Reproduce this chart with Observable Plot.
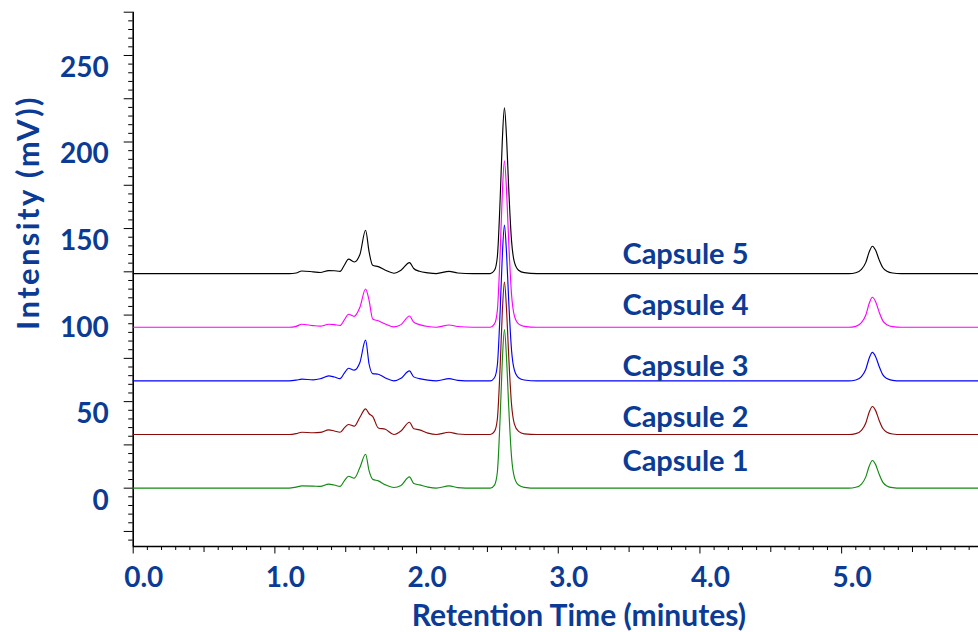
<!DOCTYPE html>
<html>
<head>
<meta charset="utf-8">
<script src="https://cdn.jsdelivr.net/npm/d3@7"></script>
<script src="https://cdn.jsdelivr.net/npm/@observablehq/plot@0.6"></script>
<style>
  html, body { margin: 0; padding: 0; background: #fff; }
  #chart svg { display: block; }
</style>
</head>
<body>
<div id="chart"></div>
<script>
// Retention time sample points (minutes)
const time = [0, 1.10, 1.15, 1.19, 1.27, 1.32, 1.38, 1.42, 1.46, 1.49, 1.52, 1.56, 1.60, 1.64, 1.665, 1.69, 1.73, 1.78, 1.84, 1.89, 1.95, 1.98, 2.02, 2.08, 2.14, 2.23, 2.29, 2.40,
  2.52, 2.55, 2.57, 2.59, 2.605, 2.62, 2.635, 2.65, 2.67, 2.69, 2.72, 2.76, 2.85,
  3.50, 4.50,
  5.05, 5.10, 5.14, 5.17, 5.195, 5.217, 5.24, 5.265, 5.29, 5.32, 5.36, 5.42,
  5.97];

// Signal above each trace's own baseline (mV)
const capsule1 = [0, 0, 0.6, 1.3, 1.2, 1.0, 2.3, 1.8, 1.0, 4.2, 6.9, 5.8, 11.9, 19.6, 10.0, 5.2, 4.2, 1.9, 0.4, 1.6, 6.5, 2.7, 1.9, 0.6, 0, 1.3, 0.3, 0,
  0, 1.8, 9.2, 41.2, 73.3, 91.6, 75.1, 47.6, 18.3, 6.4, 1.8, 0.5, 0,
  0, 0,
  0, 0.5, 2.4, 6.4, 12.8, 16.0, 13.6, 8.0, 3.5, 1.3, 0.3, 0,
  0];
const capsule2 = [0, 0, 0.5, 1.3, 1.0, 1.2, 2.7, 2.0, 1.3, 3.8, 5.8, 4.8, 10.0, 14.8, 12.0, 10.5, 3.8, 3.0, 0, 2.0, 7.1, 3.3, 2.7, 0.8, 0, 1.3, 0.3, 0,
  0, 1.8, 8.8, 39.6, 70.5, 88.1, 72.2, 45.8, 17.6, 6.2, 1.8, 0.4, 0,
  0, 0,
  0, 0.5, 2.4, 6.5, 13.0, 16.2, 13.8, 8.1, 3.6, 1.3, 0.3, 0,
  0];
const capsule3 = [0, 0, 0.4, 1.0, 0.6, 1.2, 2.9, 2.2, 1.3, 4.5, 7.3, 6.2, 10.6, 23.5, 9.6, 4.2, 3.8, 1.7, 0, 1.5, 5.8, 2.3, 1.3, 0.4, 0, 1.3, 0.3, 0,
  0, 1.8, 9.0, 40.5, 72.0, 90.0, 73.8, 46.8, 18.0, 6.3, 1.8, 0.5, 0,
  0, 0,
  0, 0.5, 2.5, 6.6, 13.2, 16.5, 14.0, 8.3, 3.6, 1.3, 0.3, 0,
  0];
const capsule4 = [0, 0, 0.5, 1.7, 0.9, 0.6, 1.7, 1.5, 1.0, 4.2, 7.5, 6.3, 11.5, 22.1, 15.4, 4.8, 3.7, 1.9, 0.2, 1.5, 6.5, 2.9, 1.5, 0.4, 0, 1.3, 0.4, 0,
  0, 1.9, 9.6, 43.3, 77.0, 96.2, 78.9, 50.0, 19.2, 6.7, 1.9, 0.5, 0,
  0, 0,
  0, 0.5, 2.6, 6.9, 13.8, 17.3, 14.7, 8.7, 3.8, 1.4, 0.3, 0,
  0];
const capsule5 = [0, 0, 0.3, 1.5, 1.0, 0.6, 1.7, 1.6, 1.3, 4.8, 8.3, 6.7, 11.0, 25.0, 12.5, 4.8, 4.0, 1.9, 0.2, 1.9, 6.3, 2.9, 1.3, 0.4, 0, 1.3, 0.3, 0,
  0, 1.9, 9.6, 43.1, 76.6, 95.8, 78.6, 49.8, 19.2, 6.7, 1.9, 0.5, 0,
  0, 0,
  0, 0.5, 2.4, 6.3, 12.6, 15.8, 13.4, 7.9, 3.5, 1.3, 0.3, 0,
  0];

const seriesNames = ["Capsule 1", "Capsule 2", "Capsule 3", "Capsule 4", "Capsule 5"];
const seriesOffsets = [0, 31, 62, 93, 124];          // vertical stacking offset (mV)
const seriesColors = ["#138a13", "#8b0a0a", "#0000ff", "#ff00ff", "#000000"];
const labelX = [3.453, 3.453, 3.453, 3.453, 3.453];   // minutes
const labelY = [9.8, 35.2, 64.7, 100.2, 129.6];        // mV

const yTickLabels = [0, 50, 100, 150, 200, 250];
const xTickLabels = [0, 1, 2, 3, 4, 5];

const textBlue = "#0b3b94";
const font = "Lato";
const yTitle = "Intensity (mV))";
const xTitle = "Retention Time (minutes)";

// Build table
const signals = [capsule1, capsule2, capsule3, capsule4, capsule5];
const rows = [];
signals.forEach((s, k) => {
  s.forEach((v, i) => rows.push({name: seriesNames[k], t: time[i], v: v + seriesOffsets[k]}));
});
const labels = seriesNames.map((n, k) => ({name: n, x: labelX[k], y: labelY[k]}));

const yMajor = d3.range(-25, 276, 25);
const yMinor = d3.range(-30, 276, 5).filter(v => v % 25 !== 0);
const xMajor = d3.range(0, 6, 1);
const xMid = d3.range(0.5, 6, 1);
const xMinor = d3.range(0, 60).map(i => i / 10).filter((v, i) => i % 5 !== 0);

const chart = Plot.plot({
  width: 978,
  height: 632,
  marginLeft: 132.7,
  marginRight: 0,
  marginTop: 11.7,
  marginBottom: 86,
  style: {fontFamily: font, background: "#fff", overflow: "visible"},
  x: {domain: [0, 5.966]},
  y: {domain: [-33.7, 275]},
  color: {domain: seriesNames, range: seriesColors},
  marks: [
    // tick marks
    Plot.axisY(yMinor, {tickSize: 4.5, tickFormat: () => "", stroke: "#000", strokeWidth: 1, label: null}),
    Plot.axisY(yMajor, {tickSize: 9, tickFormat: () => "", stroke: "#000", strokeWidth: 1, label: null}),
    Plot.axisX(xMinor, {tickSize: 4, tickFormat: () => "", stroke: "#000", strokeWidth: 1, label: null}),
    Plot.axisX(xMid, {tickSize: 6, tickFormat: () => "", stroke: "#000", strokeWidth: 1, label: null}),
    Plot.axisX(xMajor, {tickSize: 7.5, tickFormat: () => "", stroke: "#000", strokeWidth: 1, label: null}),
    // tick labels
    Plot.axisY(yTickLabels, {tickSize: 0, tickPadding: 24.4, dy: 12.5, tickFormat: d => String(d),
      fill: textBlue, fontSize: 28, fontWeight: 700, fontFamily: font, label: null}),
    Plot.axisX(xTickLabels, {tickSize: 0, tickPadding: 20.5, dx: 10.5, tickFormat: d3.format(".1f"),
      fill: textBlue, fontSize: 28, fontWeight: 700, fontFamily: font, label: null}),
    // axis lines
    Plot.ruleX([0], {stroke: "#000", strokeWidth: 1.6}),
    Plot.ruleY([-33.7], {stroke: "#000", strokeWidth: 1.4}),
    // traces
    Plot.line(rows, {x: "t", y: "v", z: "name", stroke: "name", strokeWidth: 1.15, curve: "monotone-x"}),
    // trace labels
    Plot.text(labels, {x: "x", y: "y", text: "name", textAnchor: "start", lineAnchor: "bottom",
      fill: textBlue, fontSize: 29, fontWeight: 700, fontFamily: font}),
    // axis titles
    Plot.text([xTitle], {frameAnchor: "bottom", dx: 23, dy: 79, lineAnchor: "bottom",
      fill: textBlue, fontSize: 30, fontWeight: 700, fontFamily: font}),
    Plot.text([yTitle], {frameAnchor: "left", dx: -104.5, dy: -66.9, rotate: -90,
      textAnchor: "middle", lineAnchor: "middle",
      fill: textBlue, fontSize: 31, fontWeight: 700, fontFamily: font})
  ]
});
d3.select(chart).selectAll("text").filter(function() { return this.textContent === yTitle; })
  .style("letter-spacing", "2.4px");
document.getElementById("chart").append(chart);
</script>
</body>
</html>
